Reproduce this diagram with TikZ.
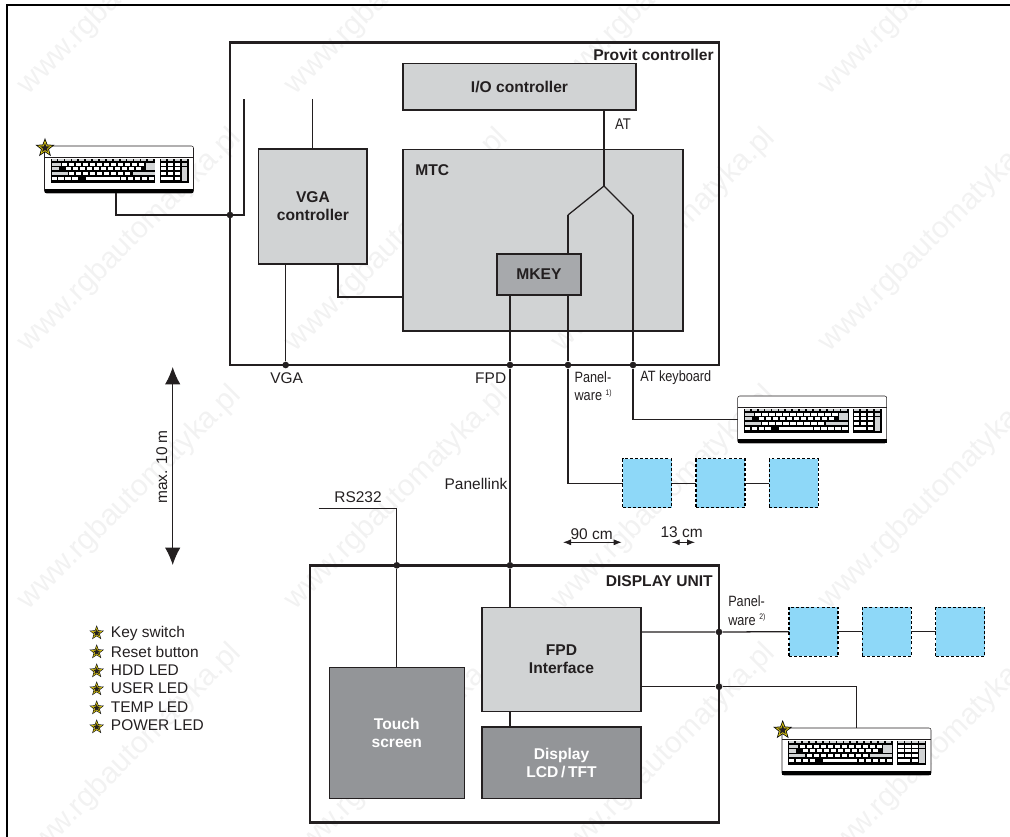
\documentclass[tikz,border=0pt]{standalone}
\usepackage{fontspec}
\setmainfont{Liberation Sans}
\newfontfamily\narrowfont[FakeStretch=0.85]{Liberation Sans}
\usetikzlibrary{arrows.meta,calc,positioning,shapes.geometric}
\definecolor{inkblack}{RGB}{35,31,32}
\definecolor{boxlight}{RGB}{209,211,212}
\definecolor{boxmid}{RGB}{167,169,172}
\definecolor{boxdark}{RGB}{147,149,152}
\definecolor{panelblue}{RGB}{142,216,248}
\definecolor{starband}{RGB}{214,194,20}
\definecolor{markgray}{RGB}{242,242,242}
\tikzset{
    labeltext/.style={font=\fontsize{11.6}{13.5}\selectfont,text=inkblack,inner sep=0pt},
    narrowtext/.style={font=\narrowfont\fontsize{11.2}{14}\selectfont,text=inkblack,inner sep=0pt,align=left},
    boldtext/.style={font=\fontsize{11.7}{13.5}\selectfont\bfseries,text=inkblack,inner sep=0pt,align=center},
    boxsize/.style 2 args={minimum width=#1*0.75pt,minimum height=#2*0.75pt},
    unitframe/.style={draw=inkblack,line width=2pt,inner sep=0pt,outer sep=0pt},
    lightbox/.style={draw=inkblack,line width=0.9pt,fill=boxlight,outer sep=0pt,inner sep=0pt},
    midbox/.style={lightbox,fill=boxmid},
    darkbox/.style={lightbox,fill=boxdark},
    panelbox/.style={draw=black,line width=0.8pt,dash pattern=on 2.2pt off 1.6pt,fill=panelblue,boxsize={49}{49},outer sep=0pt,inner sep=0pt},
    kbdbody/.style={draw=inkblack,line width=0.4pt,fill=white,rounded corners=1.5pt,boxsize={149}{47},outer sep=0pt,inner sep=0pt},
    wire/.style={draw=inkblack,line width=0.95pt},
    junction/.style={circle,fill=inkblack,minimum size=5pt,inner sep=0pt},
    staredge/.style={star,star points=5,star point ratio=2.4,fill=black,inner sep=0pt},
    starfill/.style={star,star points=5,star point ratio=2.4,fill=starband,inner sep=0pt},
    starcore/.style={star,star points=5,star point ratio=2.4,fill=inkblack,inner sep=0pt},
    watermark/.style={rotate=45,font=\fontsize{22.5}{24}\selectfont,text=markgray,inner sep=0pt},
    sizearrow/.style={draw=inkblack,line width=0.6pt,{Latex[length=6pt,width=4.5pt]}-{Latex[length=6pt,width=4.5pt]}},
    bigarrow/.style={draw=inkblack,line width=0.7pt,{Latex[length=13pt,width=11.5pt]}-{Latex[length=13pt,width=11.5pt]}},
}
\newcommand{\ledmark}[3]{%
    \node[staredge,minimum size=#3] (#1) at (#2) {};
    \node[starfill,minimum size=0.78*#3] (#1f) at (#1) {};
    \node[starcore,minimum size=0.5*#3] (#1c) at (#1) {};
}
\newcommand{\kbdkeys}[1]{%
    \begin{scope}[shift={(#1.north west)}]
        \draw[inkblack,line width=0.5pt] (0,11.5) -- (149,11.5);
        \fill[black] (0.2,43) rectangle (148.8,46.8);
        \fill[black] (6.2,13) rectangle (110.8,37);
        \fill[black] (115,13) rectangle (144,37);
        \foreach \k in {0,...,14} \fill[boxlight] ({7+6.9*\k},13) rectangle ++(5.2,2.2);
        \fill[boxlight] (7,17) rectangle (16,20);
        \foreach \k in {0,...,11} \fill[white] ({17.5+7*\k},17) rectangle ++(5.4,3);
        \fill[boxlight] (101,17) rectangle (110,24.5);
        \fill[boxlight] (7,21.3) rectangle (14,24.5);
        \foreach \k in {0,...,10} \fill[white] ({21+7*\k},21.3) rectangle ++(5.4,3);
        \fill[boxlight] (7,25.6) rectangle (23,28.8);
        \foreach \k in {0,...,8} \fill[white] ({24.5+7*\k},25.6) rectangle ++(5.4,3);
        \fill[boxlight] (88,25.6) rectangle (110,28.8);
        \foreach \k in {0,...,3} \fill[white] ({7+6.9*\k},31) rectangle ++(5.4,3.4);
        \fill[white] (41,31) rectangle (75,34.4);
        \foreach \k in {0,...,4} \fill[white] ({76.5+7*\k},31) rectangle ++(5.4,3.4);
        \foreach \k in {0,...,3} \fill[boxlight] ({116+7*\k},13) rectangle ++(5.6,2.2);
        \foreach \r in {17,21.3,25.6} \foreach \k in {0,1,2} \fill[white] ({116+7*\k},\r) rectangle ++(5.6,3);
        \fill[boxlight] (137,17) rectangle (142.6,20);
        \fill[boxlight] (137,21.3) rectangle (142.6,35);
        \fill[white] (116,31) rectangle (128,34.4);
        \fill[white] (130,31) rectangle (135.6,34.4);
    \end{scope}
}

\begin{document}
\begin{tikzpicture}[x=0.75pt,y=-0.75pt]
    \useasboundingbox (0,0) rectangle (1010,837);
    \begin{scope}
        \clip (0,0) rectangle (1010,837);
        \foreach \i in {0,...,3} \foreach \j in {0,...,3}
            \node[watermark] (wm\i\j) at ({130+267*\i},{-17+257.5*\j}) {www.rgbautomatyka.pl};
    \end{scope}
    \draw[black,line width=1.8pt] (7,837) -- (7,5) -- (1010,5);

    \node[unitframe,boxsize={489}{322.5}] (provit) at (474.5,203.75) {};
    \node[boldtext,anchor=east] (provittxt) at (714,55) {Provit controller};
    \node[lightbox,boldtext,boxsize={233}{46.5}] (io) at (519.5,86.75) {I/O controller};
    \node[lightbox,boxsize={280}{181.5}] (mtc) at (543,240.25) {};
    \node[boldtext,anchor=west] (mtctxt) at (415,170) {MTC};
    \node[lightbox,boldtext,boxsize={108.3}{115}] (vga) at (312.9,206.5) {VGA\\controller};
    \node[unitframe,boxsize={409}{257}] (display) at (514.5,693.8) {};
    \node[boldtext,anchor=east] (displaytxt) at (713,580.7) {DISPLAY UNIT};

    \coordinate (forkT) at (604,186);
    \coordinate (forkL) at (568,215);
    \coordinate (forkR) at (633,215);
    \draw[wire] (io.south -| forkT) -- (forkT);
    \draw[wire] (forkL) -- (forkT) -- (forkR);

    \node[midbox,boldtext,boxsize={84}{41}] (mkey) at (539,274.5) {MKEY};
    \node[lightbox,boldtext,boxsize={159}{103.6}] (fpdif) at (561.5,659.5) {FPD\\Interface};
    \node[darkbox,boldtext,text=white,boxsize={135}{131}] (touch) at (396.8,733.2) {Touch\\screen};
    \node[darkbox,boldtext,text=white,boxsize={159}{71.7}] (lcd) at (561.5,762.9) {Display\\LCD\,/\,TFT};

    \node[kbdbody] (kbA) at (119,169.5) {};
    \node[kbdbody] (kbB) at (812.2,419.5) {};
    \node[kbdbody] (kbC) at (856.5,751.5) {};
    \kbdkeys{kbA}
    \kbdkeys{kbB}
    \kbdkeys{kbC}
    \ledmark{starA}{45,148}{15pt}
    \ledmark{starC}{782.7,730}{15pt}

    \node[panelbox] (pwA) at (647.2,483.3) {};
    \node[panelbox] (pwB) at (720.5,483.3) {};
    \node[panelbox] (pwC) at (793.8,483.3) {};
    \node[panelbox] (pwD) at (813.5,631.7) {};
    \node[panelbox] (pwE) at (886.7,631.7) {};
    \node[panelbox] (pwF) at (960.2,631.7) {};

    \node[junction] (jKbd) at (230,215) {};
    \node[junction] (jVga) at (285.7,365) {};
    \node[junction] (jFpd) at (510,365) {};
    \node[junction] (jPanel) at (568,365) {};
    \node[junction] (jAtKbd) at (633,365) {};
    \node[junction] (jRs) at (396.8,565.3) {};
    \node[junction] (jLink) at (510,565.3) {};
    \node[junction] (jPwTwo) at (719,632) {};
    \node[junction] (jKbdTwo) at (719,686.7) {};

    \coordinate (kbAout) at (116,193);
    \coordinate (stubA) at (244,99);
    \coordinate (stubB) at (312.5,99);
    \coordinate (rsEnd) at (318.7,508.3);
    \draw[wire] (kbAout) |- (stubA |- jKbd) -- (stubA);
    \draw[wire] (stubB) -- (vga.north -| stubB);
    \draw[wire] (vga.south -| jVga) -- (jVga);
    \draw[wire] (vga.south -| 338,0) |- (mtc.west |- 0,297);
    \draw[wire] (forkL) -- (mkey.north -| forkL);
    \draw[wire] (mkey.south -| jPanel) -- (jPanel) |- (pwA.west);
    \draw[wire] (forkR) -- (jAtKbd) |- (kbB.west);
    \draw[wire] (mkey.south -| jFpd) -- (jFpd) -- (jLink) -- (fpdif.north -| jLink);
    \draw[wire] (pwA) -- (pwB);
    \draw[wire] (pwB) -- (pwC);
    \draw[wire] (rsEnd) -| (jRs) -- (touch.north);
    \draw[wire] (fpdif.east |- jPwTwo) -- (jPwTwo) -- (pwD.west);
    \draw[wire] (pwD) -- (pwE);
    \draw[wire] (pwE) -- (pwF);
    \draw[wire] (fpdif.east |- jKbdTwo) -- (jKbdTwo) -| (kbC.north);
    \draw[wire] (fpdif.south -| jLink) -- (lcd.north -| jLink);

    \node[labeltext] (attxt) at (623,124) {\narrowfont AT};
    \node[labeltext] (vgatxt) at (286.7,378) {VGA};
    \node[labeltext] (fpdtxt) at (490.7,378) {FPD};
    \node[narrowtext,anchor=north west] (pwonetxt) at (574.3,371) {Panel-\\ware \raisebox{4pt}{\fontsize{6}{6}\selectfont 1)}};
    \node[narrowtext,anchor=west] (atkbtxt) at (640,378) {AT keyboard};
    \node[labeltext,anchor=east] (linktxt) at (507.7,484) {Panellink};
    \node[labeltext] (rstxt) at (358,497) {RS232};
    \node[narrowtext,anchor=north west] (pwtwotxt) at (728,595.5) {Panel-\\ware \raisebox{4pt}{\fontsize{6}{6}\selectfont 2)}};

    \coordinate (maxT) at (172.7,367);
    \coordinate (maxB) at (172.7,565);
    \draw[bigarrow] (maxT) -- (maxB);
    \node[labeltext,rotate=90] (maxtxt) at (161.7,467) {max. 10 m};
    \coordinate (wideL) at (563,542.3);
    \coordinate (wideR) at (621.7,542.3);
    \draw[sizearrow] (wideL) -- (wideR);
    \node[labeltext] (widetxt) at (591.7,534) {90 cm};
    \coordinate (gapL) at (671.7,542.3);
    \coordinate (gapR) at (695,542.3);
    \draw[sizearrow] (gapL) -- (gapR);
    \node[labeltext] (gaptxt) at (681.7,531.7) {13 cm};

    \ledmark{ledA}{96.7,633}{11.5pt}
    \ledmark{ledB}{96.7,652}{11.5pt}
    \ledmark{ledC}{96.7,671}{11.5pt}
    \ledmark{ledD}{96.7,689}{11.5pt}
    \ledmark{ledE}{96.7,708}{11.5pt}
    \ledmark{ledF}{96.7,727}{11.5pt}
    \node[labeltext,anchor=west] (ledAtxt) at (110.7,633.3) {Key switch};
    \node[labeltext,anchor=west] (ledBtxt) at (110.7,651.7) {Reset button};
    \node[labeltext,anchor=west] (ledCtxt) at (110.7,670.5) {HDD LED};
    \node[labeltext,anchor=west] (ledDtxt) at (110.7,688.5) {USER LED};
    \node[labeltext,anchor=west] (ledEtxt) at (110.7,707) {TEMP LED};
    \node[labeltext,anchor=west] (ledFtxt) at (110.7,725) {POWER LED};
\end{tikzpicture}
\end{document}
